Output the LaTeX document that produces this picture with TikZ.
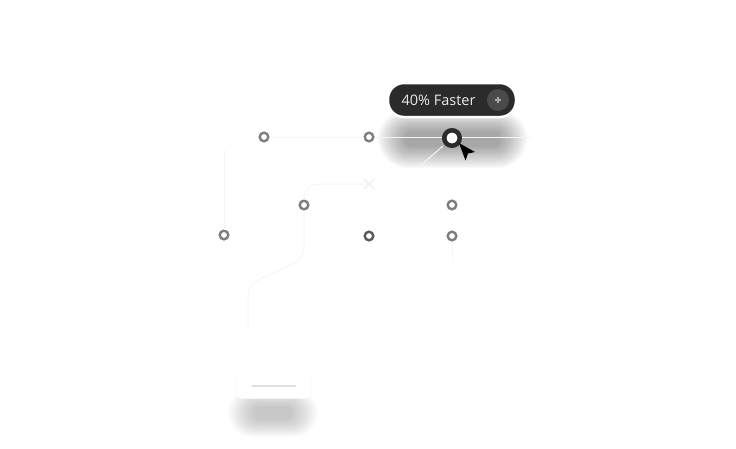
\documentclass[tikz,border=0pt]{standalone}
\usepackage{fontspec}
\setmainfont{Open Sans}
\usetikzlibrary{calc}
\definecolor{ringgray}{HTML}{7E7E7E}
\definecolor{ringdark}{HTML}{5A5A5A}
\definecolor{pilldark}{HTML}{2B2B2B}
\definecolor{plusgray}{HTML}{4A4A4A}
\definecolor{faint}{HTML}{F5F5F5}

\begin{document}
\begin{tikzpicture}[x=1pt, y=-1pt,
  ring/.style={circle, draw=ringgray, line width=2.4pt, fill=white,
    minimum size=8.6pt, inner sep=0pt},
  faintline/.style={draw=faint, line width=1pt}]
  \useasboundingbox (0,0) rectangle (736,448);

  % schatten onder het label
  \foreach \i in {0,...,17}
    \fill[black, opacity=0.025, rounded corners={6+1.4*\i}]
      ({405-1.6*\i}, {132-1.3*\i}) rectangle ({500+1.6*\i}, {146+1.3*\i});
  % schatten onder de kaart
  \foreach \i in {0,...,15}
    \fill[black, opacity=0.014, rounded corners={5+1.3*\i}]
      ({255-1.8*\i}, {407-1.2*\i}) rectangle ({291+1.8*\i}, {419+1.2*\i});

  % punten
  \node[ring] (r1) at (264,137) {};
  \node[ring] (r2) at (369,137) {};
  \node[ring] (r3) at (304,205) {};
  \node[ring] (r4) at (452,205) {};
  \node[ring] (r5) at (224,235) {};
  \node[ring, draw=ringdark] (r6) at (369,236) {};
  \node[ring] (r7) at (452,236) {};
  \coordinate (X) at (369,184);

  % vage verbindingen
  \draw[faintline] (r2) -- (452,137);
  \draw[faintline] (461,137) -- (532,137);
  \draw[faintline] (r1) -- (r2);
  \draw[faintline] (r5) -- (224,150);
  \draw[faintline] (r7) -- (452,262);
  \draw[faintline, rounded corners=14pt] (X) -- (304,184) -- (r3);
  \draw[faintline, rounded corners=10pt] (r3) -- (304,258) -- (248,285) -- (248,328);
  \draw[faintline] (443,146) -- (420,166);
  % kruisje
  \draw[draw=black!6, line width=1.6pt] ($(X)+(-5,-5)$) -- ($(X)+(5,5)$)
    ($(X)+(-5,5)$) -- ($(X)+(5,-5)$);

  % actief punt
  \node[circle, draw=pilldark, line width=4.5pt, fill=white,
    minimum size=15.5pt, inner sep=0pt] (act) at (452,138) {};
  % cursor
  \fill[black] (459,143) -- (475,152) -- (468,153.5) -- (465.5,160.5) -- cycle;

  % label
  \node[draw=white, line width=2.5pt, fill=pilldark, rounded corners=16pt,
    minimum width=128pt, minimum height=34pt] (pill) at (452,100) {};
  \node[anchor=west, text=white!92!black, font=\fontsize{14.5}{16}\selectfont]
    (lbl) at (398,100) {40\% Faster};
  \node[circle, fill=plusgray, minimum size=22pt, inner sep=0pt] (plus) at (498,100) {};
  \draw[black!35, line width=1.3pt] ($(plus)+(-3,0)$) -- ($(plus)+(3,0)$)
    ($(plus)+(0,-3)$) -- ($(plus)+(0,3)$);

  % kaart onderaan
  \node[fill=white, draw=black!3, rounded corners=6pt,
    minimum width=76pt, minimum height=27pt] (card) at (273.5,385) {};
  \draw[black!12, line width=2.5pt] ($(card)+(-22,1)$) -- ($(card)+(22,1)$);
\end{tikzpicture}
\end{document}
